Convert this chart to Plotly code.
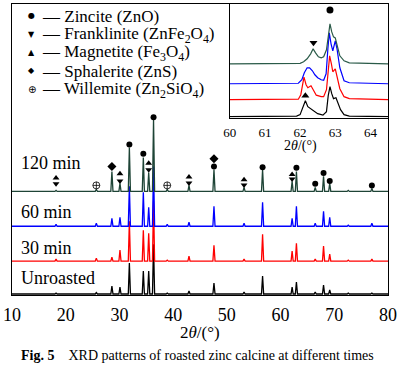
import plotly.graph_objects as go

# ---------------- main XRD patterns (arbitrary intensity units) ----------------
PEAK_2THETA = [18.2, 25.7, 28.6, 30.1, 31.85, 34.45, 35.45, 36.35, 38.9, 42.95,
               47.6, 53.2, 56.65, 62.15, 62.95, 66.45, 68.0, 69.15, 72.6, 77.0]
UNROASTED = [1, 1.5, 8, 7, 31, 23, 23, 50, 1, 3, 11, 2, 18, 7, 12, 2, 9, 4, 1, 1]
MIN30 = [2, 3, 4, 11, 40, 31, 28, 60, 1, 5, 16, 2, 27, 10, 18, 2, 15, 7, 1, 2]
MIN60 = [2, 3, 8, 9, 40, 34, 19, 60, 2, 4, 20, 3, 24, 8, 20, 3, 15, 9, 1, 3]
MIN120 = [1, 2, 20, 8, 44, 34, 19, 72, 2, 6, 22, 4, 22, 10, 20, 4, 15, 8, 1, 3]
SERIES_NAMES = ["Unroasted", "30 min", "60 min", "120 min"]
SERIES_OFFSETS = [1, 34, 69, 104]

# phase markers on the 120 min pattern
ZINCITE_X = [31.85, 34.45, 36.35, 47.6, 56.65, 62.95, 66.45, 68.0, 69.15, 77.0]
ZINCITE_Y = [151, 141.7, 178.3, 129, 128.3, 127.7, 111.7, 122.3, 114.3, 110]
FRANKLINITE_X = [18.2, 30.1, 35.45, 42.95, 53.2, 62.15]
FRANKLINITE_Y = [111.7, 114.3, 125.7, 112.3, 110.3, 116.3]
MAGNETITE_X = [18.2, 30.1, 35.45, 42.95, 53.2, 62.15]
MAGNETITE_Y = [117.5, 121.7, 132.3, 118.3, 115.7, 121]
SPHALERITE_X = [28.6, 47.6]
SPHALERITE_Y = [129, 136.7]
WILLEMITE_X = [25.7, 38.9]
WILLEMITE_Y = [110, 110]

# ---------------- inset (60-64.5 deg) ----------------
INSET_OFFSETS = [1, 18, 34, 54]
INSET_UNROASTED_X = [60, 61.9, 62.0, 62.08, 62.15, 62.22, 62.3, 62.38, 62.5, 62.65, 62.75,
                     62.8, 62.85, 62.9, 62.95, 63.02, 63.08, 63.15, 63.25, 63.4, 64.5]
INSET_UNROASTED_Y = [0, 0.5, 2, 9, 16, 10, 8, 6, 3, 1.5, 5, 21, 30, 23, 18, 19, 14, 7, 2, 0.5, 0]
INSET_MIN30_X = [60, 61.95, 62.02, 62.11, 62.17, 62.22, 62.31, 62.38, 62.46, 62.6, 62.67,
                 62.75, 62.8, 62.84, 62.89, 62.93, 63.0, 63.05, 63.13, 63.25, 63.4, 64.5]
INSET_MIN30_Y = [0, 0.5, 5, 22.7, 15, 12, 14, 10, 4.5, 3, 3, 10, 30, 44, 36, 28, 31, 24, 11, 3, 1, 0]
INSET_MIN60_X = [60, 61.95, 62.05, 62.12, 62.2, 62.27, 62.35, 62.42, 62.5, 62.6, 62.67,
                 62.74, 62.79, 62.83, 62.88, 62.93, 63.0, 63.05, 63.13, 63.25, 63.4, 64.5]
INSET_MIN60_Y = [0, 0.5, 4, 11, 16, 16, 13, 9, 6, 4, 3.5, 10, 35, 51, 40, 33, 43, 35, 16, 3, 1, 0]
INSET_MIN120_X = [60, 62.0, 62.1, 62.2, 62.3, 62.37, 62.44, 62.52, 62.6, 62.67, 62.75,
                  62.8, 62.85, 62.9, 62.95, 63.0, 63.05, 63.13, 63.25, 63.4, 64.5]
INSET_MIN120_Y = [0, 0.5, 2, 5, 10, 15, 11, 7, 6, 7, 14, 30, 40, 32, 27, 26, 20, 8, 3, 1, 0]
INSET_MARK_ZINCITE = (62.85, 108)
INSET_MARK_FRANKLINITE = (62.38, 75)
INSET_MARK_MAGNETITE = (62.15, 22)

X_TICKS = [10, 20, 30, 40, 50, 60, 70, 80]
INSET_TICKS = [60, 61, 62, 63, 64]

LEGEND_SYMBOLS = ["\u25CF", "\u25BC", "\u25B2", "\u25C6", "\u2295"]
LEGEND_LABELS = ["Zincite (ZnO)", "Franklinite (ZnFe<sub>2</sub>O<sub>4</sub>)",
                 "Magnetite (Fe<sub>3</sub>O<sub>4</sub>)", "Sphalerite (ZnS)",
                 "Willemite (Zn<sub>2</sub>SiO<sub>4</sub>)"]

# ---------------- styling ----------------
W, H = 400, 370
L, R, T, B = 7, 8, 3, 75
SERIF = "Liberation Serif, Times New Roman, serif"
COLORS = ["#000000", "#ff0000", "#0000ff", "#1e4436"]
INSET_COLORS = ["#000000", "#ff0000", "#0000ff", "#2a5a48"]
HW = 0.2  # drawn half width of a peak


def px(xp):
    return (xp - L) / (W - L - R)


def py(yp):
    return (H - B - yp) / (H - B - T)


def profile(heights, base):
    xs, ys = [10], [base]
    for p, h in zip(PEAK_2THETA, heights):
        xs += [p - HW, p, p + HW]
        ys += [base, base + h, base]
    xs.append(80)
    ys.append(base)
    return xs, ys


fig = go.Figure()

for name, heights, off, col in zip(SERIES_NAMES, [UNROASTED, MIN30, MIN60, MIN120],
                                   SERIES_OFFSETS, COLORS):
    xs, ys = profile(heights, off)
    fig.add_trace(go.Scatter(x=xs, y=ys, mode="lines", line=dict(color=col, width=1.3),
                             showlegend=False, hoverinfo="skip"))

for xs, ys, sym, size in [(ZINCITE_X, ZINCITE_Y, "circle", 6),
                          (FRANKLINITE_X, FRANKLINITE_Y, "triangle-down", 6),
                          (MAGNETITE_X, MAGNETITE_Y, "triangle-up", 6),
                          (SPHALERITE_X, SPHALERITE_Y, "diamond", 7),
                          (WILLEMITE_X, WILLEMITE_Y, "circle-cross-open", 7)]:
    fig.add_trace(go.Scatter(x=xs, y=ys, mode="markers",
                             marker=dict(symbol=sym, size=size, color="black",
                                         line=dict(color="black", width=0.8 if "open" in sym else 0)),
                             showlegend=False, hoverinfo="skip"))

# inset traces
for xs, ys, off, col in zip([INSET_UNROASTED_X, INSET_MIN30_X, INSET_MIN60_X, INSET_MIN120_X],
                            [INSET_UNROASTED_Y, INSET_MIN30_Y, INSET_MIN60_Y, INSET_MIN120_Y],
                            INSET_OFFSETS, INSET_COLORS):
    fig.add_trace(go.Scatter(x=xs, y=[v + off for v in ys], mode="lines",
                             line=dict(color=col, width=1.2), xaxis="x2", yaxis="y2",
                             showlegend=False, hoverinfo="skip"))
for (mx, my), sym in [(INSET_MARK_ZINCITE, "circle"), (INSET_MARK_FRANKLINITE, "triangle-down"),
                      (INSET_MARK_MAGNETITE, "triangle-up")]:
    fig.add_trace(go.Scatter(x=[mx], y=[my], mode="markers", xaxis="x2", yaxis="y2",
                             marker=dict(symbol=sym, size=7, color="black"),
                             showlegend=False, hoverinfo="skip"))

ann = []
# legend
legend_rows = [15, 33.5, 51.5, 70, 89]
for sym, lab, yy in zip(LEGEND_SYMBOLS, LEGEND_LABELS, legend_rows):
    ann.append(dict(x=px(27), y=py(yy), xref="paper", yref="paper", text=sym,
                    showarrow=False, xanchor="center", yanchor="middle",
                    font=dict(family="DejaVu Sans", size=10 if sym == "\u2295" else 8,
                              color="black")))
    ann.append(dict(x=px(36), y=py(yy + 0.5), xref="paper", yref="paper",
                    text="\u2014 " + lab, showarrow=False, xanchor="left", yanchor="middle",
                    font=dict(family=SERIF, size=17, color="black")))
# series labels
for name, yy in zip(SERIES_NAMES, [278, 248, 212, 163]):
    ann.append(dict(x=px(14), y=py(yy), xref="paper", yref="paper", text=name,
                    showarrow=False, xanchor="left", yanchor="middle",
                    font=dict(family=SERIF, size=18, color="black")))
# axis titles & caption
ann.append(dict(x=px(200), y=py(333), xref="paper", yref="paper", text="2<i>\u03b8</i>/(\u00b0)",
                showarrow=False, xanchor="center", yanchor="middle",
                font=dict(family=SERIF, size=17, color="black")))
ann.append(dict(x=px(302), y=py(145), xref="paper", yref="paper", text="2<i>\u03b8</i>/(\u00b0)",
                showarrow=False, xanchor="center", yanchor="middle",
                font=dict(family=SERIF, size=14, color="black")))
ann.append(dict(x=px(197), y=py(356), xref="paper", yref="paper",
                text="<b>Fig. 5</b>\u00a0\u00a0\u00a0\u00a0XRD patterns of roasted zinc calcine at different times",
                showarrow=False, xanchor="center", yanchor="middle",
                font=dict(family=SERIF, size=14, color="black")))

axis_common = dict(showline=True, linecolor="black", linewidth=1, mirror=True,
                   showgrid=False, zeroline=False, ticks="")

fig.update_layout(
    width=W, height=H,
    margin=dict(l=L, r=R, t=T, b=B),
    paper_bgcolor="white", plot_bgcolor="white",
    showlegend=False,
    xaxis=dict(range=[10, 80], tickvals=X_TICKS, domain=[0, 1],
               tickfont=dict(family=SERIF, size=18, color="black"),
               ticklabelstandoff=3, ticklabeloverflow="allow", **axis_common),
    yaxis=dict(range=[0, 292], showticklabels=False, domain=[0, 1], **axis_common),
    xaxis2=dict(range=[60, 64.5], tickvals=INSET_TICKS, domain=[px(230), 1], anchor="y2",
                tickfont=dict(family=SERIF, size=13, color="black"),
                ticklabelstandoff=3, ticklabeloverflow="allow", **axis_common),
    yaxis2=dict(range=[0, 114], showticklabels=False, domain=[py(117), 1], anchor="x2",
                **axis_common),
    annotations=ann,
)

fig.write_html("out.html", config={"displayModeBar": False, "staticPlot": True},
               post_script="document.body.style.margin='0';document.body.style.padding='0';")
